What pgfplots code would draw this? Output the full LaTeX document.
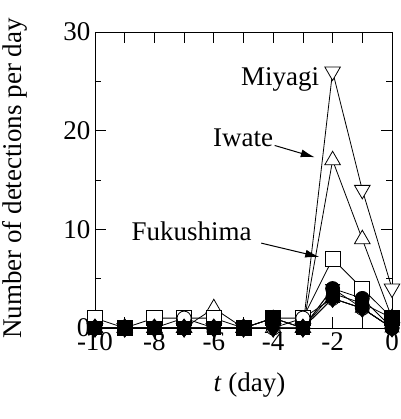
\documentclass[border=0pt]{standalone}
\usepackage{fontspec}
\setmainfont{Liberation Serif}
\usepackage{pgfplots}
\pgfplotsset{compat=1.18}
\usetikzlibrary{arrows.meta}
\begin{document}
\begin{tikzpicture}
\useasboundingbox (-95pt,-91pt) rectangle (305pt,328pt);
\begin{axis}[
  at={(0,0)}, anchor=south west,
  scale only axis,
  width=297pt, height=296pt,
  xmin=-10, xmax=0, ymin=0, ymax=30,
  xtick={-10,-9,...,0},
  xticklabels={-10,,-8,,-6,,-4,,-2,,0},
  ytick={0,10,20,30},
  minor ytick={5,15,25},
  tick align=inside,
  major tick length=11pt,
  minor tick length=6pt,
  tick style={black, line width=0.8pt},
  axis line style={line width=0.9pt},
  clip=false,
  /pgf/number format/assume math mode=true,
  tick label style={font=\fontsize{27}{30}\selectfont},
  label style={font=\fontsize{27}{30}\selectfont},
  xlabel={\textit{t} (day)},
  ylabel={Number of detections per day},
  xticklabel style={yshift=-1pt},
  yticklabel style={xshift=-1pt},
  xlabel style={at={(axis description cs:0.52,-0.193)}, anchor=center},
  ylabel style={at={(axis description cs:-0.269,0.505)}, anchor=center},
  every axis plot/.append style={black, line width=0.8pt},
]
% Miyagi
\addplot[mark=triangle*, mark size=9pt, mark options={fill=white, rotate=180}] coordinates {
(-10,0) (-9,0) (-8,0) (-7,0) (-6,0) (-5,0) (-4,0) (-3,0) (-2,26) (-1,14) (0,4)};
% Iwate
\addplot[mark=triangle*, mark size=9pt, mark options={fill=white}] coordinates {
(-10,0) (-9,0) (-8,0) (-7,0) (-6,2) (-5,0) (-4,0) (-3,0) (-2,17) (-1,9) (0,1)};
% Fukushima
\addplot[mark=square*, mark size=7.5pt, mark options={fill=white}] coordinates {
(-10,1) (-9,0) (-8,1) (-7,1) (-6,1) (-5,0) (-4,1) (-3,1) (-2,7) (-1,4) (0,1)};
% open circles
\addplot[mark=*, mark size=7pt, mark options={fill=white}] coordinates {
(-10,0) (-9,0) (-8,0) (-7,1) (-6,0) (-5,0) (-4,0) (-3,1) (-2,3) (-1,2) (0,0)};
% filled series
\addplot[mark=*, mark size=7pt] coordinates {
(-10,0) (-9,0) (-8,0) (-7,0) (-6,0) (-5,0) (-4,1) (-3,0) (-2,4) (-1,3) (0,0)};
\addplot[mark=diamond*, mark size=9pt] coordinates {
(-10,0) (-9,0) (-8,0) (-7,0) (-6,0) (-5,0) (-4,0) (-3,0) (-2,3) (-1,2) (0,0)};
\addplot[mark=square*, mark size=6.5pt] coordinates {
(-10,0) (-9,0) (-8,0) (-7,0) (-6,0) (-5,0) (-4,1) (-3,0) (-2,3.5) (-1,2.5) (0,1)};
\addplot[mark=triangle*, mark size=8pt] coordinates {
(-10,0) (-9,0) (-8,0) (-7,0) (-6,0) (-5,0) (-4,1) (-3,0) (-2,3) (-1,2) (0,0)};
\addplot[mark=triangle*, mark size=8pt, mark options={rotate=180}] coordinates {
(-10,0) (-9,0) (-8,0) (-7,0) (-6,0) (-5,0) (-4,0) (-3,0) (-2,4) (-1,2) (0,0)};
% annotations
\node[anchor=east, font=\fontsize{27}{30}\selectfont, inner sep=0pt] at (axis cs:-2.45,25.2) {Miyagi};
\node[anchor=east, font=\fontsize{27}{30}\selectfont, inner sep=0pt] at (axis cs:-4.0,19.3) {Iwate};
\node[font=\fontsize{27}{30}\selectfont, inner sep=0pt] at (axis cs:-6.75,9.8) {Fukushima};
\draw[-{Latex[length=14pt,width=8pt]}, line width=1pt] (axis cs:-3.95,18.5) -- (axis cs:-2.6,17.3);
\draw[-{Latex[length=14pt,width=8pt]}, line width=1pt] (axis cs:-4.4,8.6) -- (axis cs:-2.45,7.2);
\end{axis}
\end{tikzpicture}
\end{document}
